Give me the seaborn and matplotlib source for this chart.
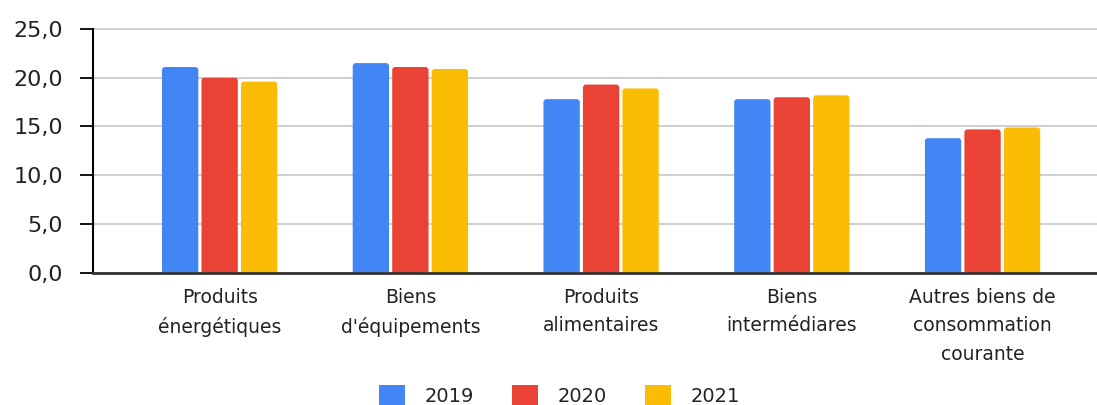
import matplotlib
matplotlib.use("Agg")
import matplotlib.pyplot as plt
import seaborn as sns
import pandas as pd
from matplotlib.patches import FancyBboxPatch, Patch
from matplotlib.ticker import FixedLocator, FuncFormatter

categories = [
    "Produits\nénergétiques",
    "Biens\nd'équipements",
    "Produits\nalimentaires",
    "Biens\nintermédiares",
    "Autres biens de\nconsommation\ncourante",
]
years = ["2019", "2020", "2021"]
v2019 = [21.1, 21.5, 17.8, 17.8, 13.8]
v2020 = [20.0, 21.1, 19.3, 18.0, 14.7]
v2021 = [19.6, 20.9, 18.9, 18.2, 14.9]
colors = ["#4285F4", "#EA4335", "#FBBC04"]

rows = []
for year, vals in zip(years, [v2019, v2020, v2021]):
    for cat, v in zip(categories, vals):
        rows.append({"categorie": cat, "annee": year, "valeur": v})
df = pd.DataFrame(rows)

sns.set_theme(style="white")
plt.rcParams["font.family"] = ["DejaVu Sans"]

fig = plt.figure(figsize=(10.97, 4.05), dpi=100)
ax = fig.add_axes([92.6 / 1097, 132.3 / 405, 1 - 92.6 / 1097, 243.7 / 405])

sns.barplot(
    data=df, x="categorie", y="valeur", hue="annee",
    order=categories, hue_order=years, palette=colors,
    width=0.621, gap=0.08, linewidth=0, saturation=1, ax=ax, legend=False,
)

ax.set_ylim(0, 25)
ax.set_xlim(-0.666, 4.60)

# Slightly rounded bar tops: swap each rectangle for a rounded box whose
# lower corners sit below the axis and are clipped away.
fig.canvas.draw()
px_x = ax.transData.transform((1, 0))[0] - ax.transData.transform((0, 0))[0]
px_y = ax.transData.transform((0, 1))[1] - ax.transData.transform((0, 0))[1]
radius_px = 3.0
rx = radius_px / px_x
ry = radius_px / px_y
for container in ax.containers:
    for bar in container:
        x, y = bar.get_xy()
        w, h = bar.get_width(), bar.get_height()
        rounded = FancyBboxPatch(
            (x, y - ry), w, h + ry,
            boxstyle=f"round,pad=0,rounding_size={rx}",
            mutation_aspect=ry / rx,
            facecolor=bar.get_facecolor(), edgecolor="none", linewidth=0,
            zorder=bar.get_zorder(),
        )
        ax.add_patch(rounded)
        bar.set_visible(False)

ax.yaxis.set_major_locator(FixedLocator([0, 5, 10, 15, 20, 25]))
ax.yaxis.set_major_formatter(FuncFormatter(lambda v, p: f"{v:.1f}".replace(".", ",")))
ax.grid(axis="y", color="#cccccc", linewidth=1.3)
ax.grid(axis="x", visible=False)
for gl in ax.get_ygridlines():
    gl.set_clip_on(False)
ax.set_axisbelow(True)
ax.set_xlabel("")
ax.set_ylabel("")

for side in ["top", "right"]:
    ax.spines[side].set_visible(False)
ax.spines["left"].set_color("#000000")
ax.spines["left"].set_linewidth(1.5)
ax.spines["bottom"].set_color("#333333")
ax.spines["bottom"].set_linewidth(2)
ax.spines["bottom"].set_zorder(5)

ax.tick_params(axis="y", left=True, length=9.4, width=1.3, color="#000000",
               pad=12, labelsize=16, labelcolor="#222222")
ax.tick_params(axis="x", length=0, pad=11, labelsize=13.5, labelcolor="#222222")
for lbl in ax.get_xticklabels():
    lbl.set_linespacing(1.62)
    lbl.set_horizontalalignment("center")

handles = [Patch(facecolor=c, edgecolor="none") for c in colors]
fig.legend(
    handles, years, loc="center", bbox_to_anchor=(559.5 / 1097, 1 - 396 / 405),
    ncol=3, frameon=False, fontsize=14, handlelength=1.34, handleheight=1.34,
    handletextpad=1.0, columnspacing=1.95, labelcolor="#222222", borderaxespad=0,
    borderpad=0,
)

fig.savefig("out.png", dpi=100)
